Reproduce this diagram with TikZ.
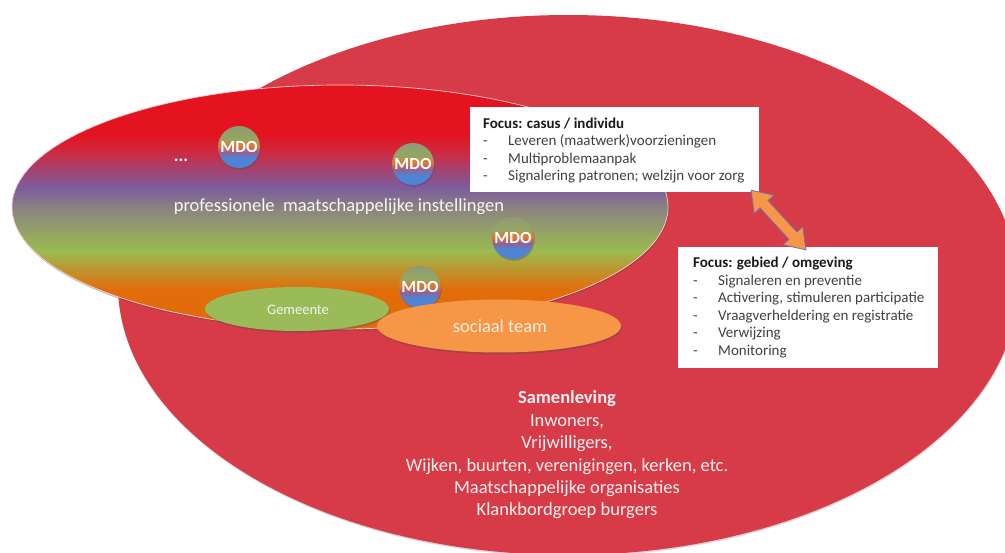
\documentclass[tikz,border=0pt]{standalone}
\usepackage{fontspec}
\setmainfont{Carlito}
\usetikzlibrary{shapes.geometric,shapes.arrows,shadows,calc}
\definecolor{samred}{RGB}{216,59,72}
\definecolor{gorange}{RGB}{227,108,10}
\definecolor{ggreen}{RGB}{155,187,80}
\definecolor{ggray}{RGB}{140,133,126}
\definecolor{gpurple}{RGB}{124,92,158}
\definecolor{gcrimson}{RGB}{208,40,62}
\definecolor{gred}{RGB}{227,19,31}
\definecolor{gemgreen}{RGB}{155,187,89}
\definecolor{teamorange}{RGB}{247,150,70}
\definecolor{mtop}{RGB}{142,154,120}
\definecolor{mgreen}{RGB}{147,168,96}
\definecolor{morange}{RGB}{224,118,52}
\definecolor{mpurple}{RGB}{150,96,144}
\definecolor{mblue}{RGB}{78,132,214}
\definecolor{boxtext}{RGB}{64,64,64}
\definecolor{arrowline}{RGB}{112,112,176}
\pgfdeclareverticalshading{rainbowfill}{100bp}{color(0bp)=(gorange); color(25bp)=(gorange); color(33bp)=(gorange); color(41bp)=(ggreen); color(49.5bp)=(ggray); color(54bp)=(gpurple); color(61.5bp)=(gcrimson); color(65bp)=(gred); color(100bp)=(gred)}
\pgfdeclareverticalshading{mdofill}{100bp}{color(0bp)=(mblue); color(25bp)=(mblue); color(37bp)=(mblue); color(44bp)=(mpurple); color(51bp)=(morange); color(60bp)=(mgreen); color(75bp)=(mtop); color(100bp)=(mtop)}
\tikzset{
  shape shadow/.style={drop shadow={shadow xshift=0.8pt, shadow yshift=-1.8pt, opacity=0.35, fill=black!70}},
  mdo/.style={circle, minimum size=42pt, inner sep=0pt, shading=mdofill, text=white,
    font=\fontsize{17}{17}\selectfont\bfseries, shape shadow},
  infobox/.style={rectangle, fill=white, draw=none, inner sep=0pt, anchor=north west},
  boxlines/.style={anchor=west, inner sep=0pt, text=boxtext, align=left,
    font=\fontsize{15}{17.6}\selectfont},
  bigtext/.style={text=white!94!red, font=\fontsize{18.5}{22.4}\selectfont, align=center, inner sep=0pt},
}
\newcommand{\itm}[1]{-&#1\\}
\begin{document}
\begin{tikzpicture}[x=1pt,y=-1pt]
\useasboundingbox (0,0) rectangle (1005,553);
\fill[white] (0,0) rectangle (1005,553);
\clip (0,0) rectangle (1005,553);
% society ellipse
\node[ellipse, minimum width=900pt, minimum height=540pt, inner sep=0pt, fill=samred,
  drop shadow={shadow xshift=0.5pt, shadow yshift=-1.5pt, opacity=0.3}] (society) at (568,285) {};
% professional institutions ellipse
\node[ellipse, minimum width=656pt, minimum height=244pt, inner sep=0pt, shading=rainbowfill,
  draw=white!80!red, line width=0.7pt, shape shadow] (prof) at (340,207) {};
\node[bigtext, text=white!94!gray] (proftext) at (339,207) {professionele\ \ maatschappelijke instellingen};
\node[text=white, font=\fontsize{18}{18}\selectfont\bfseries, inner sep=0pt] (dots) at (181,160) {...};
% Gemeente and sociaal team
\node[ellipse, minimum width=184pt, minimum height=44pt, inner sep=0pt, fill=gemgreen, shape shadow] (gemeente) at (297,309) {};
\node[text=white!88!gemgreen, font=\fontsize{14.5}{14.5}\selectfont, inner sep=0pt] (gemtext) at (298,310) {Gemeente};
% MDO circles
\node[mdo] (mdo1) at (239,147) {MDO};
\node[mdo] (mdo2) at (413,164) {MDO};
\node[mdo] (mdo3) at (513,238) {MDO};
\node[mdo] (mdo4) at (420,287) {MDO};
\node[ellipse, minimum width=244pt, minimum height=53pt, inner sep=0pt, fill=teamorange, shape shadow] (team) at (499,326) {};
\node[text=white!85!teamorange, font=\fontsize{18.5}{18.5}\selectfont, inner sep=0pt] (teamtext) at (500,326) {sociaal team};
% boxes
\node[infobox, minimum width=289pt, minimum height=85pt] (box1) at (470,107) {};
\node[boxlines] (box1text) at (483,151) {%
  \begin{tabular}{@{}p{25pt}@{}l@{}}
  \multicolumn{2}{@{}l@{}}{\textbf{\color{black!90}Focus: casus / individu}}\\
  \itm{Leveren (maatwerk)voorzieningen}
  \itm{Multiproblemaanpak}
  -&Signalering patronen; welzijn voor zorg
  \end{tabular}};
\node[infobox, minimum width=260pt, minimum height=121pt] (box2) at (678,247) {};
\node[boxlines] (box2text) at (693,308) {%
  \begin{tabular}{@{}p{25pt}@{}l@{}}
  \multicolumn{2}{@{}l@{}}{\textbf{\color{black!90}Focus: gebied / omgeving}}\\
  \itm{Signaleren en preventie}
  \itm{Activering, stimuleren participatie}
  \itm{Vraagverheldering en registratie}
  \itm{Verwijzing}
  -&Monitoring
  \end{tabular}};
% double arrow
\coordinate (a1) at (751,190);
\coordinate (a2) at (806,250);
\node[double arrow, rotate=-47.5, minimum height=81pt, inner xsep=0pt, inner ysep=5pt,
  double arrow head extend=8pt, double arrow tip angle=70, fill=teamorange, draw=arrowline,
  line width=0.8pt] (link) at ($(a1)!0.5!(a2)$) {};
% Samenleving text
\node[bigtext] (samtext) at (567,455) {\textbf{Samenleving}\\Inwoners,\\Vrijwilligers,\\Wijken, buurten, verenigingen, kerken, etc.\\Maatschappelijke organisaties\\Klankbordgroep burgers};
\end{tikzpicture}
\end{document}
